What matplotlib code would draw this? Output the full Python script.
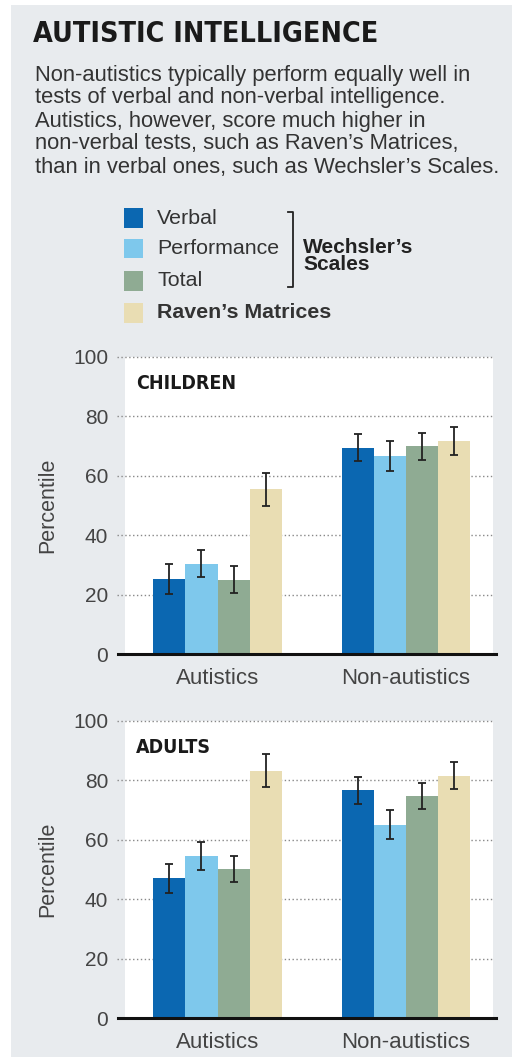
import numpy as np
import matplotlib
matplotlib.use('Agg')
import matplotlib.pyplot as plt
from matplotlib.patches import Rectangle

# data
groups = ['Autistics', 'Non-autistics']
series = ['Verbal', 'Performance', 'Total', "Raven's Matrices"]
colors = ['#0b67b1', '#7ec8ec', '#8fab93', '#e9ddb3']

children_vals = [[25.3, 69.5], [30.4, 66.7], [25.0, 69.9], [55.4, 71.7]]
children_err = [[5.0, 4.5], [4.6, 5.0], [4.5, 4.5], [5.5, 4.7]]
adults_vals = [[47.0, 76.6], [54.6, 65.1], [50.2, 74.7], [83.2, 81.5]]
adults_err = [[5.0, 4.5], [4.6, 5.0], [4.4, 4.5], [5.5, 4.6]]

yticks = [0, 20, 40, 60, 80, 100]

W, H = 512, 1057
fig = plt.figure(figsize=(W / 100, H / 100), dpi=100)
fig.patch.set_facecolor('white')

BG = '#e8ebee'
TXT = '#333333'
fig.patches.append(Rectangle((11 / W, 0), 1 - 11 / W, 1 - 5 / H, transform=fig.transFigure,
                             facecolor=BG, edgecolor='none', zorder=-5))

cond = ['Liberation Sans Narrow', 'DejaVu Sans']
body = ['Liberation Sans', 'DejaVu Sans']


def fx(px):
    return px / W


def fy(py):
    return 1 - py / H


# title and intro
fig.text(fx(33), fy(34), 'AUTISTIC INTELLIGENCE', family=cond, fontweight='bold',
         fontstretch='condensed', fontsize=20.5, color='#1a1a1a', va='center', ha='left')
intro = ['Non-autistics typically perform equally well in',
         'tests of verbal and non-verbal intelligence.',
         'Autistics, however, score much higher in',
         "non-verbal tests, such as Raven\u2019s Matrices,",
         "than in verbal ones, such as Wechsler\u2019s Scales."]
for i, line in enumerate(intro):
    fig.text(fx(35), fy(75 + 23 * i), line, family=body, fontsize=15.8, color=TXT,
             va='center', ha='left')

# legend
leg_y = [218, 249, 281, 313]
for i, lab in enumerate(series):
    fig.patches.append(Rectangle((fx(124), fy(leg_y[i] + 9.5)), 19 / W, 19 / H,
                                 transform=fig.transFigure, facecolor=colors[i],
                                 edgecolor='none', zorder=2))
    lab = lab.replace("'", "\u2019")
    fig.text(fx(157), fy(leg_y[i]), lab, family=body, fontsize=15.4, color=TXT,
             fontweight='bold' if i == 3 else 'normal', va='center', ha='left')

bx = [288, 293, 293, 288]
by = [212, 212, 287, 287]
fig.lines.append(plt.Line2D([fx(v) for v in bx], [fy(v) for v in by], transform=fig.transFigure,
                            color='#222222', lw=1.3))
fig.text(fx(303), fy(256), 'Wechsler\u2019s\nScales', family=body, fontsize=15,
         fontweight='bold', color='#222222', va='center', ha='left', linespacing=0.82)

# panels
x = np.arange(len(groups))
bw = 0.171
left, right = 125, 493
unit = 188.5
xlim = ((left - 217.5) / unit, (right - 217.5) / unit)


def panel(top_px, bot_px, vals, errs, label):
    ax = fig.add_axes([fx(left), fy(bot_px), (right - left) / W, (bot_px - top_px) / H])
    ax.set_facecolor('white')
    for i in range(len(series)):
        ax.bar(x + (i - 1.5) * bw, vals[i], width=bw, color=colors[i], zorder=3)
        ax.errorbar(x + (i - 1.5) * bw, vals[i], yerr=errs[i], fmt='none', ecolor='#222222',
                    elinewidth=1.3, capsize=2.6, capthick=1.3, zorder=4)
    ax.set_xlim(*xlim)
    ax.set_ylim(0, 100)
    for t in yticks[1:]:
        ax.axhline(t, xmin=-8 / (right - left), xmax=1, color='#888888', lw=1.0,
                   ls=(0, (1, 1.8)), clip_on=False, zorder=1)
    ax.axhline(0, xmin=-7 / (right - left), xmax=1 + 3 / (right - left), color='#111111',
               lw=2.2, clip_on=False, zorder=5)
    for s in ax.spines.values():
        s.set_visible(False)
    ax.set_yticks(yticks)
    ax.set_yticklabels([str(t) for t in yticks], family=body, fontsize=15, color='#444444')
    ax.set_xticks(x)
    ax.set_xticklabels(groups, family=body, fontsize=16, color='#444444')
    ax.tick_params(axis='y', length=0, pad=12)
    ax.tick_params(axis='x', length=0, pad=10)
    ax.set_ylabel('Percentile', family=body, fontsize=15.5, color='#444444', labelpad=11)
    ax.text(0.03, 0.91, label, transform=ax.transAxes, family=cond, fontweight='bold',
            fontstretch='condensed', fontsize=14, color='#1a1a1a', va='center', ha='left')
    return ax


panel(357, 654, children_vals, children_err, 'CHILDREN')
panel(720.7, 1018.3, adults_vals, adults_err, 'ADULTS')

fig.savefig('out.png', dpi=100, facecolor=fig.get_facecolor())
